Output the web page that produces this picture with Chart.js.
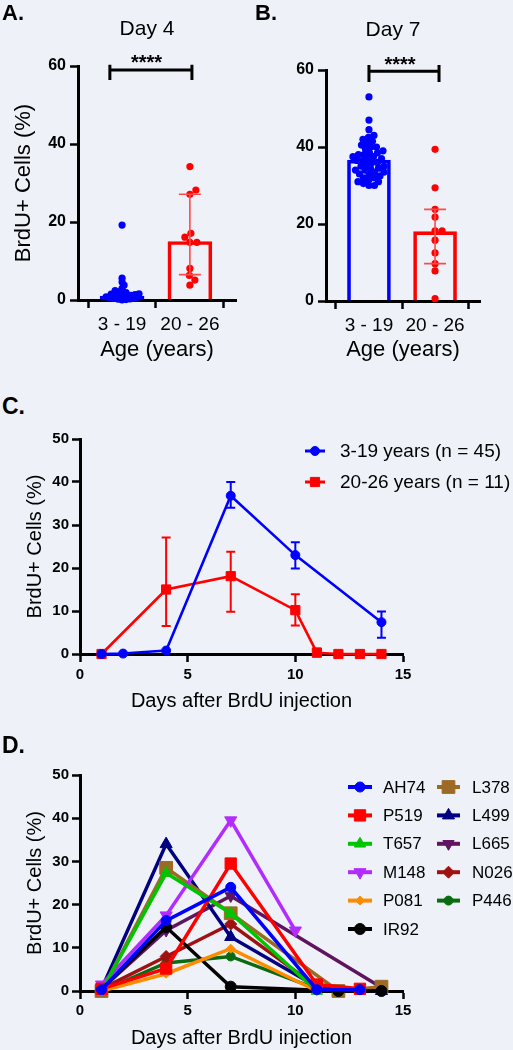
<!DOCTYPE html>
<html>
<head>
<meta charset="utf-8">
<script src="https://cdn.jsdelivr.net/npm/chart.js@4.4.1/dist/chart.umd.min.js"></script>
<style>
  body { margin: 0; background: #eef2f8; }
  #fig { position: relative; width: 513px; height: 1050px; overflow: hidden; font-family: 'Liberation Sans', Arial, sans-serif; color: #000; }
  #fig canvas { position: absolute; }
  .lbl { position: absolute; font-weight: bold; line-height: 1; }
  .ttl { position: absolute; font-size: 21px; line-height: 1; transform: translate(-50%, -50%); white-space: nowrap; }
</style>
</head>
<body>
<div id="fig">
  <canvas id="chartA" width="250" height="370" style="left:0;top:0"></canvas>
  <canvas id="chartB" width="263" height="370" style="left:250px;top:0"></canvas>
  <canvas id="chartC" width="513" height="300" style="left:0;top:420px"></canvas>
  <canvas id="chartD" width="513" height="310" style="left:0;top:740px"></canvas>
  <div class="lbl" style="left:2px;top:2px;font-size:22px">A.</div>
  <div class="lbl" style="left:255px;top:2px;font-size:22px">B.</div>
  <div class="lbl" style="left:2px;top:395px;font-size:23px">C.</div>
  <div class="lbl" style="left:2px;top:734px;font-size:23px">D.</div>
  <div class="ttl" style="left:147px;top:27px">Day 4</div>
  <div class="ttl" style="left:393px;top:28px">Day 7</div>
</div>
<script>
// ---- data: A / B (scatter dot plots, % BrdU+ cells) ----
const ageGroups = ['3 - 19', '20 - 26'];

const day4Young = [19.2, 5.6, 4.6, 3.8, 3.0, 2.4, 2.1, 1.9, 1.8, 1.6, 1.5, 1.4, 1.3,
                   1.2, 1.1, 1.0, 0.9, 0.8, 0.7, 0.6, 0.5, 0.4, 0.3, 0.2, 0.1, 0.0];
const day4Adult = [34.2, 28.2, 27.1, 17.1, 16.1, 14.8, 14.8, 8.1, 6.3, 5.1, 3.8];
const day4Mean = [1.0, 15.0];
const day4Low = [null, 6.5];
const day4High = [null, 27.1];

const day7Young = [53, 47, 44.5, 43, 42.5, 42, 41.5, 41, 40.5, 40, 40, 39.5, 39, 38.5, 38.5, 38, 38, 37.5, 37.5, 37,
                   37, 36.5, 36.5, 36, 36, 35.5, 35, 35, 34.5, 34.5, 34, 34, 33.5, 33.5, 33, 33, 32.5, 32, 32, 31.5,
                   31, 31, 30.5, 30, 30];
const day7Adult = [39.4, 29.4, 23.8, 21.8, 18.2, 18.2, 15.8, 12.5, 9.7, 7.8, 0.6];
const day7Mean = [36.6, 18.0];
const day7Low = [null, 9.7];
const day7High = [null, 23.8];

// ---- data: C (group means over time) ----
const groupLabels = ['3-19 years (n = 45)', '20-26 years (n = 11)'];
const daysYoung = [1, 2, 4, 7, 10, 14];
const meanYoung = [0, 0.1, 0.8, 36.8, 23.0, 7.4];
const lowYoung = [null, null, null, 34.0, 19.9, 3.8];
const highYoung = [null, null, null, 40.0, 26.0, 9.9];
const daysAdult = [1, 4, 7, 10, 11, 12, 13, 14];
const meanAdult = [0, 15.0, 18.1, 10.2, 0.3, 0, 0, 0];
const lowAdult = [null, 6.5, 9.8, 6.6, 0, null, null, null];
const highAdult = [null, 27.1, 23.8, 13.9, 1.3, null, null, null];

// ---- data: D (individual subjects) ----
const subjects = ['AH74', 'P519', 'T657', 'M148', 'P081', 'IR92', 'L378', 'L499', 'L665', 'N026', 'P446'];
const subjectDays = [
  [1, 4, 7, 11, 13], [1, 4, 7, 11, 13], [1, 4, 7, 11], [1, 4, 7, 10], [1, 4, 7, 11], [1, 4, 7, 12, 14],
  [1, 4, 7, 12, 14], [1, 4, 7, 11, 14], [1, 4, 7, 14], [1, 4, 7, 11], [1, 4, 7, 11]
];
const subjectValues = [
  [0.3, 16.3, 24.0, 0.3, 0.3], [0.5, 5.2, 29.5, 1.5, 0.5], [0, 27.3, 18.0, 0], [1.5, 17.5, 39.5, 14.0],
  [0, 4.0, 9.8, 0], [0.5, 14.8, 1.0, 0, 0], [0, 28.5, 18.0, 0, 1.0], [0.5, 34.0, 12.5, 1.0, 0],
  [0.5, 14.0, 22.0, 0.8], [0.5, 8.0, 15.5, 1.0], [0, 6.5, 8.0, 0.5]
];

// ---- styles ----
const FONT = "'Liberation Sans', Arial, sans-serif";
Chart.defaults.font.family = FONT;
Chart.defaults.color = '#000';
Chart.defaults.animation = false;
Chart.defaults.plugins.legend.display = false;
Chart.defaults.plugins.tooltip.enabled = false;

const BLUE = '#0000ff', RED = '#ff0000';
const subjStyle = [
  { c: '#0000ff', s: 'circle', r: 5, rot: 0 },
  { c: '#ff0000', s: 'rect', r: 8, rot: 0 },
  { c: '#00c400', s: 'triangle', r: 6.5, rot: 0 },
  { c: '#b32cff', s: 'triangle', r: 7, rot: 180 },
  { c: '#ff8c00', s: 'rectRot', r: 4.5, rot: 0 },
  { c: '#000000', s: 'circle', r: 5.5, rot: 0 },
  { c: '#9c6a24', s: 'rect', r: 9, rot: 0 },
  { c: '#000080', s: 'triangle', r: 7, rot: 0 },
  { c: '#5e145e', s: 'triangle', r: 6.5, rot: 180 },
  { c: '#a01212', s: 'rectRot', r: 6, rot: 0 },
  { c: '#0b6b12', s: 'circle', r: 4.5, rot: 0 }
];

// spread points sideways so they don't sit on top of each other
function swarm(values, center, pxPerX, pxPerY, gap) {
  const placed = [];
  [...values].sort((a, b) => a - b).forEach(v => {
    const py = v * pxPerY;
    for (let k = 0; k < 400; k++) {
      const dx = (k % 2 ? 1 : -1) * Math.ceil(k / 2) * 0.5;
      if (placed.every(p => (p.dx - dx) ** 2 + (p.py - py) ** 2 >= gap * gap)) {
        placed.push({ dx, py, v });
        break;
      }
    }
  });
  return placed.map(p => ({ x: center + p.dx / pxPerX, y: p.v }));
}

// ---- plugins ----
const errorBars = {
  id: 'errorBars',
  afterDatasetsDraw(chart, args, opts) {
    const ctx = chart.ctx;
    chart.data.datasets.forEach((ds, i) => {
      if (!ds.errLow) return;
      const meta = chart.getDatasetMeta(i);
      const ys = chart.scales[meta.yAxisID];
      meta.data.forEach((el, j) => {
        const lo = ds.errLow[j], hi = ds.errHigh[j];
        if (lo == null || hi == null) return;
        const x = el.x, y1 = ys.getPixelForValue(lo), y2 = ys.getPixelForValue(hi);
        const c = opts.cap / 2;
        ctx.save();
        ctx.strokeStyle = ds.errColor || ds.borderColor;
        ctx.lineWidth = opts.width;
        ctx.beginPath();
        ctx.moveTo(x, y1); ctx.lineTo(x, y2);
        ctx.moveTo(x - c, y1); ctx.lineTo(x + c, y1);
        ctx.moveTo(x - c, y2); ctx.lineTo(x + c, y2);
        ctx.stroke();
        ctx.restore();
      });
    });
  }
};

const sigBracket = {
  id: 'sigBracket',
  afterDraw(chart, args, o) {
    const { ctx, scales: { x, y } } = chart;
    const x1 = x.getPixelForValue(o.x1), x2 = x.getPixelForValue(o.x2);
    const yl = y.getPixelForValue(o.y), yt = y.getPixelForValue(o.yTop), yb = y.getPixelForValue(o.yBot);
    ctx.save();
    ctx.strokeStyle = '#000';
    ctx.lineWidth = 3;
    ctx.beginPath();
    ctx.moveTo(x1, yl); ctx.lineTo(x2, yl);
    ctx.moveTo(x1, yt); ctx.lineTo(x1, yb);
    ctx.moveTo(x2, yt); ctx.lineTo(x2, yb);
    ctx.stroke();
    ctx.fillStyle = '#000';
    ctx.font = 'bold 20px ' + FONT;
    ctx.textAlign = 'center';
    ctx.textBaseline = 'alphabetic';
    ctx.fillText(o.text, x.getPixelForValue(o.textX), y.getPixelForValue(o.textY));
    ctx.restore();
  }
};

const lineLegend = {
  id: 'lineLegend',
  afterDraw(chart, args, o) {
    const ctx = chart.ctx;
    ctx.save();
    ctx.font = o.font;
    ctx.textBaseline = 'middle';
    o.slots.forEach((s, i) => {
      const ds = chart.data.datasets[i];
      ctx.strokeStyle = ds.borderColor;
      ctx.lineWidth = o.lineWidth;
      ctx.beginPath(); ctx.moveTo(s[0], s[2]); ctx.lineTo(s[1], s[2]); ctx.stroke();
      ctx.fillStyle = ds.backgroundColor;
      ctx.lineWidth = 1;
      Chart.helpers.drawPoint(ctx, { pointStyle: ds.pointStyle, rotation: ds.pointRotation || 0, radius: ds.pointRadius, borderWidth: 1 }, (s[0] + s[1]) / 2, s[2]);
      ctx.fillStyle = '#000';
      ctx.fillText(ds.label, s[3], s[2] + 1);
    });
    ctx.restore();
  }
};

// ---- shared axis look ----
function axis(extra) {
  return Object.assign({
    type: 'linear',
    grid: { display: true, drawOnChartArea: false, drawTicks: true, tickLength: 8, tickWidth: 2.5, tickColor: '#000' },
    border: { display: true, color: '#000', width: 3 }
  }, extra);
}

// ---- A / B ----
function dotPlot(id, young, adult, means, low, high, o) {
  new Chart(document.getElementById(id), {
    type: 'scatter',
    data: {
      datasets: [
        { type: 'scatter', data: swarm(young, 1, o.pxX, o.pxY, o.gapY), backgroundColor: BLUE, borderWidth: 0, pointRadius: 3.6, order: 1, clip: false },
        { type: 'scatter', data: swarm(adult, 2, o.pxX, o.pxY, 7), backgroundColor: RED, borderWidth: 0, pointRadius: 3.6, order: 1, clip: false },
        { type: 'bar', data: means.map((m, i) => ({ x: i + 1, y: m })), borderColor: [BLUE, RED], backgroundColor: 'rgba(0,0,0,0)',
          borderWidth: 3, barThickness: o.barW, order: 2, errLow: low, errHigh: high, errColor: '#ff4a4a' }
      ]
    },
    options: {
      responsive: false,
      events: [],
      layout: { padding: { top: o.top, right: o.right, bottom: 0, left: 0 } },
      scales: {
        x: axis({
          min: 0.35, max: 2.68, offset: false,
          afterBuildTicks: s => { s.ticks = [{ value: 1 }, { value: 2 }]; },
          afterFit: s => { s.height = o.xh; },
          ticks: { font: { size: 19 }, padding: 5, callback: v => ageGroups[v - 1] },
          title: { display: true, text: 'Age (years)', font: { size: 22 }, padding: { top: 0, bottom: 7 } }
        }),
        y: axis({
          min: 0, max: 60,
          afterFit: s => { s.width = o.yw; },
          ticks: { stepSize: 20, font: { size: 16, weight: 'bold' }, padding: 4 },
          title: { display: o.yTitle, text: 'BrdU+ Cells (%)', font: { size: 22 }, padding: { top: 11, bottom: 0 } }
        })
      },
      plugins: {
        errorBars: { cap: 22, width: 1.6 },
        sigBracket: o.bracket
      }
    },
    plugins: [errorBars, sigBracket]
  });
}

dotPlot('chartA', day4Young, day4Adult, day4Mean, day4Low, day4High, {
  pxX: 68, pxY: 3.9, gapY: 3.6, barW: 44, top: 66, right: 14, xh: 70, yw: 78, yTitle: true,
  bracket: { x1: 0.82, x2: 2.03, y: 59, yTop: 60.3, yBot: 56.4, text: '****', textX: 1.36, textY: 59.2 }
});
dotPlot('chartB', day7Young, day7Adult, day7Mean, day7Low, day7High, {
  pxX: 66, pxY: 3.845, gapY: 5.5, barW: 43, top: 70, right: 33, xh: 69, yw: 76, yTitle: false,
  bracket: { x1: 1.0, x2: 2.06, y: 59.7, yTop: 61.3, yBot: 56.9, text: '****', textX: 1.47, textY: 59.8 }
});

// ---- C / D ----
function timeAxes(o) {
  return {
    x: axis({
      min: 0, max: 15,
      afterFit: s => { s.height = o.xh; },
      ticks: { stepSize: 5, font: { size: 15, weight: 'bold' }, padding: o.xpad },
      title: { display: true, text: 'Days after BrdU injection', font: { size: 20 }, padding: { top: 0, bottom: o.xtb } }
    }),
    y: axis({
      min: 0, max: 50,
      afterFit: s => { s.width = 80; },
      ticks: { stepSize: 10, font: { size: 15, weight: 'bold' }, padding: 3 },
      title: { display: true, text: 'BrdU+ Cells (%)', font: { size: 20 }, padding: { top: 23, bottom: 0 } }
    })
  };
}

const toPts = (xs, ys) => xs.map((d, i) => ({ x: d, y: ys[i] }));

new Chart(document.getElementById('chartC'), {
  type: 'scatter',
  data: {
    datasets: [
      { label: groupLabels[0], data: toPts(daysYoung, meanYoung), showLine: true, borderColor: BLUE, backgroundColor: BLUE,
        borderWidth: 2.6, pointRadius: 4.5, pointBorderWidth: 1, pointStyle: 'circle', clip: false, errLow: lowYoung, errHigh: highYoung },
      { label: groupLabels[1], data: toPts(daysAdult, meanAdult), showLine: true, borderColor: RED, backgroundColor: RED,
        borderWidth: 2.6, pointRadius: 6.5, pointBorderWidth: 1, pointStyle: 'rect', clip: false, errLow: lowAdult, errHigh: highAdult }
    ]
  },
  options: {
    responsive: false,
    events: [],
    layout: { padding: { top: 19, right: 110, bottom: 0, left: 0 } },
    scales: timeAxes({ xh: 66, xpad: 4, xtb: 7 }),
    plugins: {
      errorBars: { cap: 9, width: 2 },
      lineLegend: { font: '19px ' + FONT, lineWidth: 3, slots: [[305, 325, 31, 340], [305, 325, 62, 340]] }
    }
  },
  plugins: [errorBars, lineLegend]
});

const legendSlotsD = subjects.map((s, i) => i < 6
  ? [348, 372, 47 + i * 28.4, 383]
  : [437, 460, 47 + (i - 6) * 28.4, 472]);

new Chart(document.getElementById('chartD'), {
  type: 'scatter',
  data: {
    datasets: subjects.map((name, i) => ({
      label: name,
      data: toPts(subjectDays[i], subjectValues[i]),
      showLine: true,
      borderColor: subjStyle[i].c,
      backgroundColor: subjStyle[i].c,
      borderWidth: 3.5,
      pointStyle: subjStyle[i].s,
      pointRadius: subjStyle[i].r,
      pointRotation: subjStyle[i].rot,
      pointBorderWidth: 1,
      clip: false
    }))
  },
  options: {
    responsive: false,
    events: [],
    layout: { padding: { top: 35, right: 110, bottom: 0, left: 0 } },
    scales: timeAxes({ xh: 59, xpad: 3, xtb: 0 }),
    plugins: {
      lineLegend: { font: '17px ' + FONT, lineWidth: 4, slots: legendSlotsD }
    }
  },
  plugins: [lineLegend]
});
</script>
</body>
</html>
